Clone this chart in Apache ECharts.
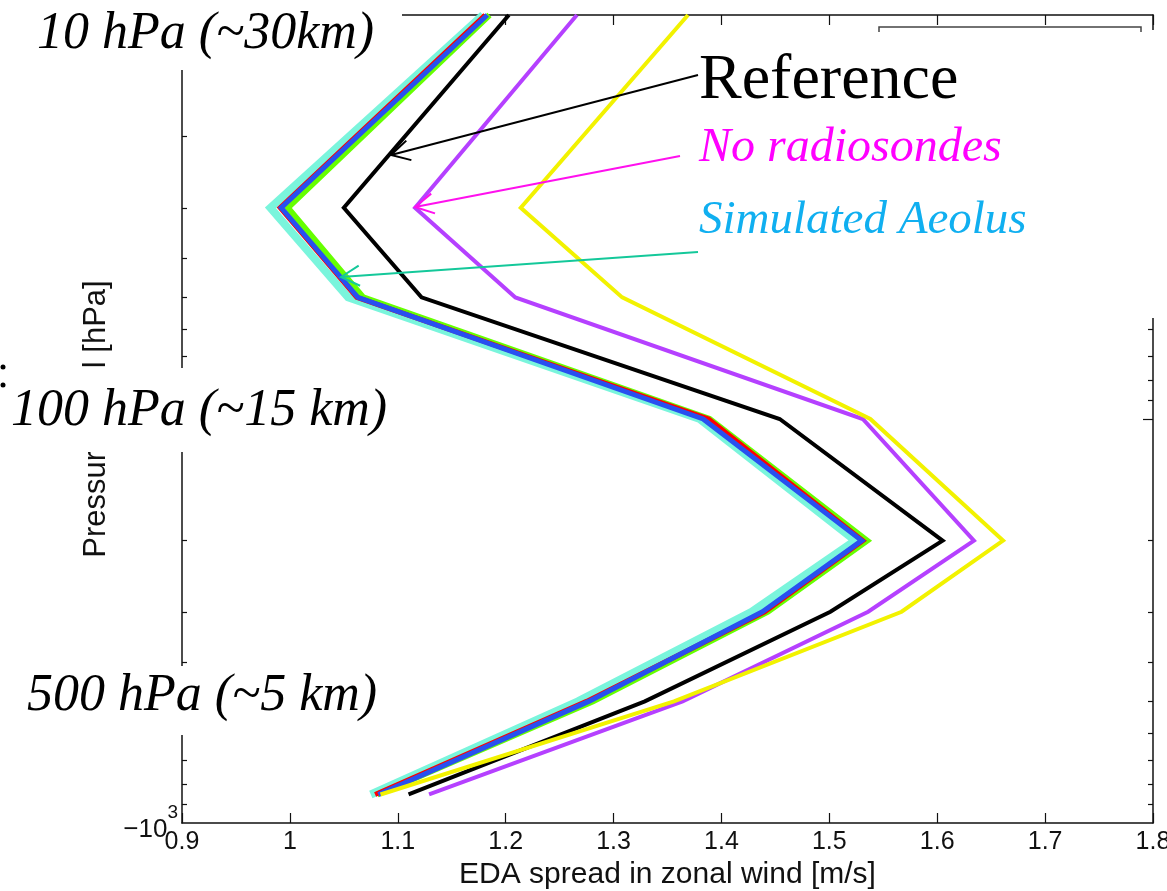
<!doctype html>
<html>
<head>
<meta charset="utf-8">
<title>EDA spread in zonal wind</title>
<script src="https://cdn.jsdelivr.net/npm/echarts@6/dist/echarts.min.js"></script>
<style>
  html, body { margin: 0; padding: 0; background: #fff; }
  #chart { width: 1167px; height: 891px; }
</style>
</head>
<body>
<div id="chart"></div>
<script>
// pressure levels (hPa)
var levels = [10, 30, 50, 100, 200, 300, 500, 850];

// EDA spread in zonal wind (m/s) for each experiment, one value per level
var spreadCyan   = [1.179, 0.982, 1.054, 1.380, 1.524, 1.428, 1.267, 1.075];
var spreadGreen  = [1.185, 0.998, 1.068, 1.389, 1.535, 1.443, 1.281, 1.081];
var spreadRed    = [1.181, 0.991, 1.062, 1.388, 1.531, 1.440, 1.275, 1.079];
var spreadBlue   = [1.183, 0.992, 1.063, 1.383, 1.530, 1.438, 1.277, 1.082];
var spreadBlack  = [1.203, 1.050, 1.122, 1.454, 1.605, 1.501, 1.329, 1.110];
var spreadPurple = [1.266, 1.116, 1.209, 1.531, 1.634, 1.536, 1.364, 1.129];
var spreadYellow = [1.369, 1.214, 1.308, 1.538, 1.661, 1.567, 1.356, 1.084];

// y tick marks (hPa), log axis
var yMinorTicks = [20, 30, 40, 50, 60, 70, 80, 90, 200, 300, 400, 500, 600, 700, 800, 900];
var yMajorTicks = [100];
var yLabelTicks = [1000];

var sans = '"Liberation Sans", Arial, sans-serif';
var serif = '"Liberation Serif", "Times New Roman", serif';

function lg(v) { return Math.log10(v); }
function pairs(xs) {
  return xs.map(function (v, i) { return [v, lg(levels[i])]; });
}
function line(name, xs, color, width) {
  return {
    name: name, type: 'line', data: pairs(xs), symbol: 'none',
    lineStyle: { color: color, width: width, join: 'miter' },
    emphasis: { disabled: true }
  };
}

// open arrow from tail (x1,y1) to tip (x2,y2)
function arrow(x1, y1, x2, y2, color) {
  var a = Math.atan2(y1 - y2, x1 - x2), L = 21, s = 0.5;
  return [
    { type: 'line', z: 110, shape: { x1: x1, y1: y1, x2: x2, y2: y2 },
      style: { stroke: color, lineWidth: 2 } },
    { type: 'polyline', z: 110,
      shape: { points: [[x2 + L * Math.cos(a + s), y2 + L * Math.sin(a + s)], [x2, y2],
                        [x2 + L * Math.cos(a - s), y2 + L * Math.sin(a - s)]] },
      style: { stroke: color, lineWidth: 2, fill: null } }
  ];
}
function box(x, y, w, h) {
  return { type: 'rect', z: 100, shape: { x: x, y: y, width: w, height: h },
           style: { fill: '#fff' } };
}
function label(x, y, text, size, color, italic) {
  return { type: 'text', z: 110, x: x, y: y,
           style: { text: text, fill: color, fontSize: size, fontFamily: serif,
                    fontStyle: italic ? 'italic' : 'normal',
                    align: 'left', verticalAlign: 'middle' } };
}

var chart = echarts.init(document.getElementById('chart'));

var axisLineStyle = { color: '#111', width: 1.5 };
var tickStyle = { color: '#111', width: 1.2 };

var graphics = [
  box(0, 0, 402, 70),
  box(0, 368, 398, 84),
  box(0, 666, 396, 69),
  box(697, 30, 470, 288),
  { type: 'polyline', z: 101, shape: { points: [[879, 32], [879, 27], [1141, 27], [1141, 32]] },
    style: { stroke: '#444', lineWidth: 1.5, fill: null } },
  { type: 'circle', z: 110, shape: { cx: 3, cy: 367, r: 2.5 }, style: { fill: '#000' } },
  { type: 'circle', z: 110, shape: { cx: 3, cy: 385, r: 2.5 }, style: { fill: '#000' } },
  label(37, 34, '10 hPa (~30km)', 52, '#000', true),
  label(11, 411, '100 hPa (~15 km)', 52, '#000', true),
  label(27, 696, '500 hPa (~5 km)', 52, '#000', true),
  label(699, 81, 'Reference', 64, '#000', false),
  label(699, 148, 'No radiosondes', 48, '#ff00ff', true),
  label(699, 221, 'Simulated Aeolus', 47, '#10aff0', true)
].concat(
  arrow(698, 75, 391, 155, '#000'),
  arrow(680, 156, 415, 207, '#ff10ee'),
  arrow(698, 252, 341, 277, '#14c89a')
);

var option = {
  animation: false,
  backgroundColor: '#fff',
  grid: { left: 182, right: 14, top: 15, bottom: 68, outerBoundsMode: 'none' },
  xAxis: [
    {
      type: 'value', min: 0.9, max: 1.8, interval: 0.1, position: 'bottom',
      axisLine: { show: true, onZero: false, lineStyle: axisLineStyle },
      axisTick: { show: true, inside: true, length: 10, lineStyle: tickStyle },
      axisLabel: { fontFamily: sans, fontSize: 25, color: '#111', margin: 7 },
      splitLine: { show: false },
      name: 'EDA spread in zonal wind [m/s]', nameLocation: 'middle', nameGap: 33,
      nameTextStyle: { fontFamily: sans, fontSize: 30, color: '#111' }
    },
    {
      type: 'value', min: 0.9, max: 1.8, interval: 0.1, position: 'top',
      axisLine: { show: true, onZero: false, lineStyle: axisLineStyle },
      axisTick: { show: true, inside: true, length: 10, lineStyle: tickStyle },
      axisLabel: { show: false },
      splitLine: { show: false }
    }
  ],
  yAxis: [
    {
      type: 'value', min: 1, max: 3, inverse: true, position: 'left',
      axisLine: { show: true, onZero: false, lineStyle: axisLineStyle },
      axisTick: { show: true, inside: true, length: 5, lineStyle: tickStyle,
                  customValues: yMinorTicks.map(lg) },
      axisLabel: {
        customValues: yLabelTicks.map(lg), margin: 4, fontSize: 25,
        formatter: function (v) {
          return '{a|\u221210}{b|' + Math.round(v) + '}';
        },
        rich: {
          a: { fontFamily: sans, fontSize: 26, color: '#111', lineHeight: 40, verticalAlign: 'bottom' },
          b: { fontFamily: sans, fontSize: 19, color: '#111', lineHeight: 40, verticalAlign: 'top' }
        }
      },
      splitLine: { show: false },
      name: 'Pressure level [hPa]', nameLocation: 'middle', nameGap: 58,
      nameTextStyle: { fontFamily: sans, fontSize: 31, color: '#111' }
    },
    {
      type: 'value', min: 1, max: 3, inverse: true, position: 'right',
      axisLine: { show: true, onZero: false, lineStyle: axisLineStyle },
      axisTick: { show: true, inside: true, length: 5, lineStyle: tickStyle,
                  customValues: yMinorTicks.map(lg) },
      axisLabel: { show: false },
      splitLine: { show: false }
    },
    {
      type: 'value', min: 1, max: 3, inverse: true, position: 'right',
      axisLine: { show: false },
      axisTick: { show: true, inside: true, length: 10, lineStyle: tickStyle,
                  customValues: yMajorTicks.map(lg) },
      axisLabel: { show: false },
      splitLine: { show: false }
    }
  ],
  series: [
    line('cyan', spreadCyan, '#7af5dc', 8),
    line('green', spreadGreen, '#66ff00', 6),
    line('red', spreadRed, '#ff0000', 5),
    line('blue', spreadBlue, '#2850f0', 5),
    line('Reference', spreadBlack, '#000000', 4),
    line('No radiosondes', spreadPurple, '#b540ff', 4),
    line('yellow', spreadYellow, '#f2f200', 4)
  ],
  graphic: { elements: graphics }
};

chart.setOption(option);
</script>
</body>
</html>
